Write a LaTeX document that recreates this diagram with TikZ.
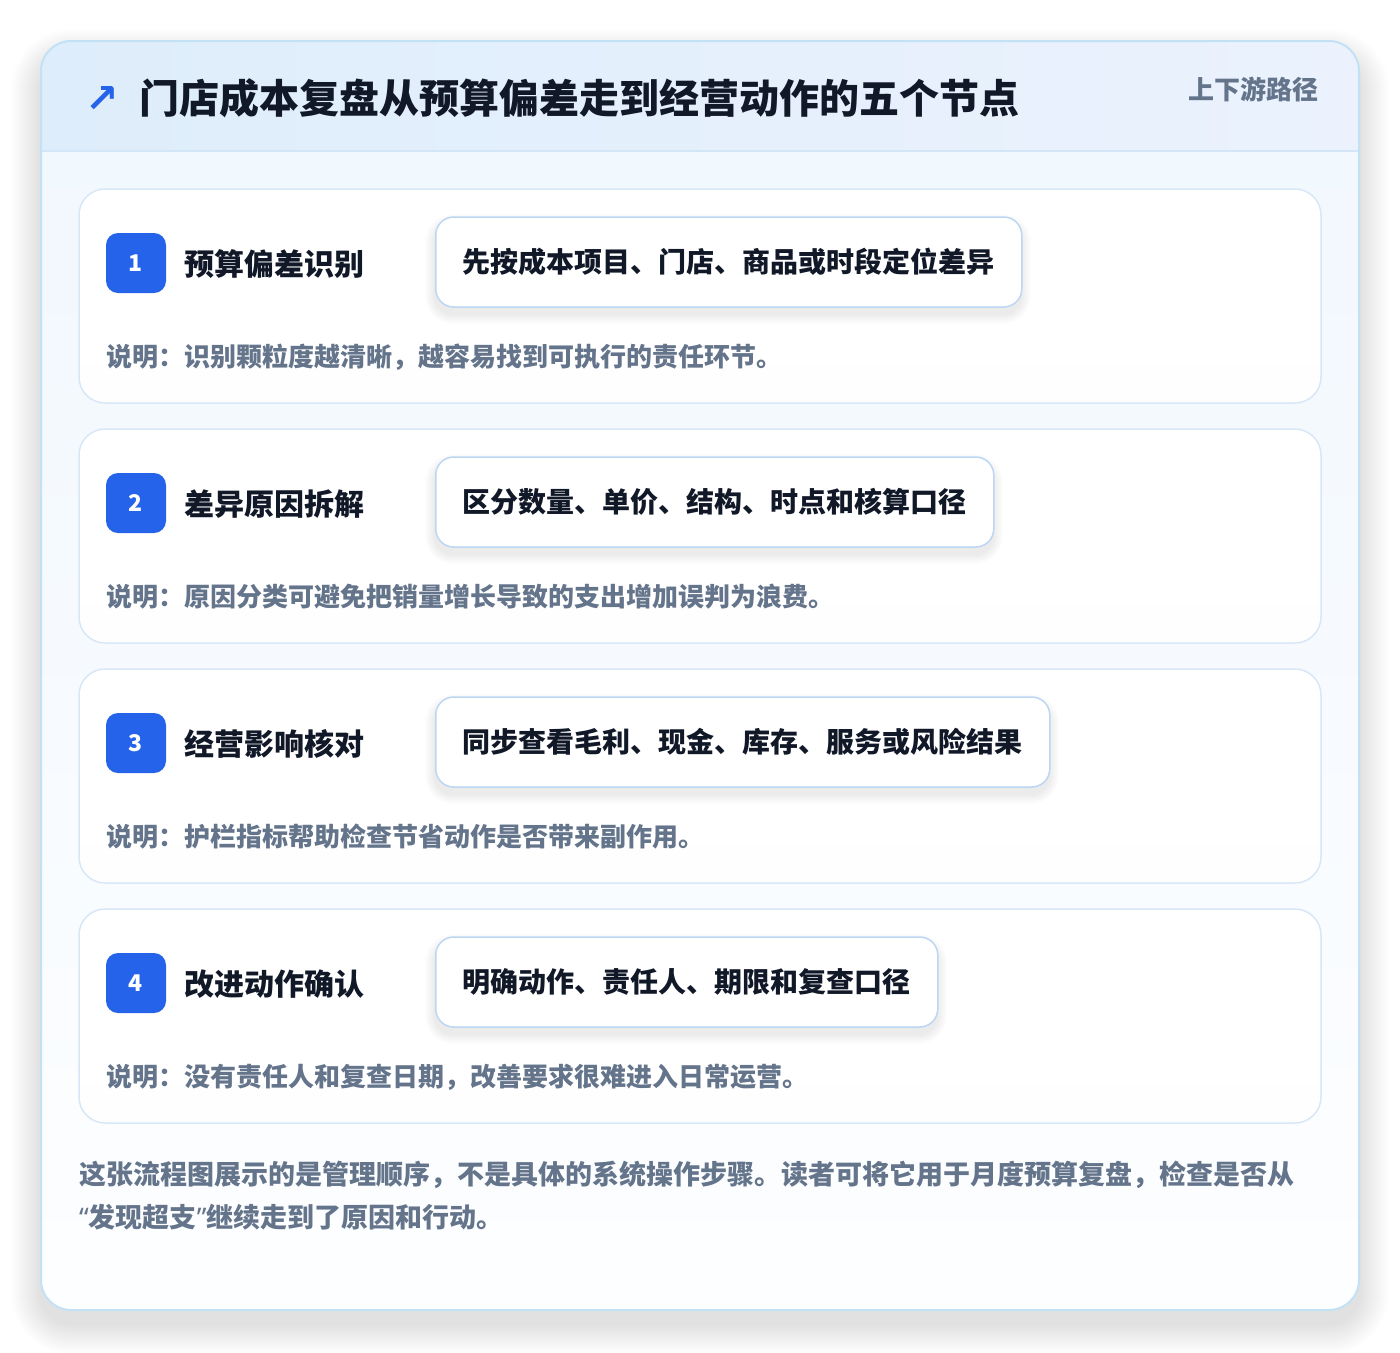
\documentclass[tikz,border=0pt]{standalone}
\usepackage{fontspec}
\setmainfont{Noto Sans CJK SC}
\newfontfamily\symfont{DejaVu Sans}
\newfontfamily\quotefont{Noto Sans}
\definecolor{ink}{HTML}{111827}
\definecolor{muted}{HTML}{64748B}
\definecolor{blueA}{HTML}{2563EB}
\definecolor{outerline}{HTML}{C3E1F5}
\definecolor{cardline}{HTML}{D8E7F7}
\definecolor{boxline}{HTML}{BCD6F3}
\definecolor{headL}{HTML}{DEEDFB}
\definecolor{headR}{HTML}{EBF2FD}
\definecolor{headsep}{HTML}{D3E6F8}
\definecolor{bodyTop}{HTML}{F0F7FE}
\definecolor{bodyBot}{HTML}{FDFEFF}
\tikzset{
  stepcard/.style={draw=cardline, line width=1.5pt, rounded corners=26pt, top color=white, bottom color=white!92!blue!3!white},
  badge/.style={fill=blueA, rounded corners=12pt, minimum width=60pt, minimum height=60pt, text=white, font=\bfseries\fontsize{23}{23}\selectfont, inner sep=0pt},
  steplabel/.style={anchor=west, font=\bfseries\fontsize{30}{30}\selectfont, text=ink, inner sep=0pt},
  actbox/.style={draw=boxline, line width=1.5pt, fill=white, rounded corners=18pt, minimum height=90pt, anchor=west, inner xsep=0pt, font=\bfseries\fontsize{28}{28}\selectfont, text=ink},
  desc/.style={anchor=west, font=\bfseries\fontsize{26}{26}\selectfont, text=muted, inner sep=0pt},
  foot/.style={anchor=west, font=\bfseries\fontsize{27}{27}\selectfont, text=muted, inner sep=0pt},
}
\begin{document}
\begin{tikzpicture}[x=1pt,y=-1pt]
\useasboundingbox (0,0) rectangle (1400,1352);
\fill[white] (0,0) rectangle (1400,1352);
% outer shadow (soft)
\foreach \k in {1,...,30}{
  \fill[black, opacity=0.0045, rounded corners=30+\k] (41-\k,41-\k+18) rectangle (1359+\k,1310+\k+14);
}
% outer card
\begin{scope}
  \clip[rounded corners=30pt] (41,41) rectangle (1359,1310);
  \shade[top color=bodyTop, bottom color=bodyBot] (41,41) rectangle (1359,1310);
  \shade[left color=headL, right color=headR] (41,41) rectangle (1359,151);
  \draw[headsep, line width=1.5pt] (41,151) -- (1359,151);
\end{scope}
\draw[outerline, line width=2pt, rounded corners=30pt] (41,41) rectangle (1359,1310);
% header
\node[anchor=center, text=blueA, font=\symfont\bfseries\fontsize{40}{40}\selectfont, inner sep=0pt] (icon) at (102,99) {↗};
\node[anchor=west, text=ink, font=\bfseries\fontsize{40}{40}\selectfont, inner sep=0pt] (title) at (139,98) {门店成本复盘从预算偏差走到经营动作的五个节点};
\node[anchor=east, text=muted, font=\bfseries\fontsize{26}{26}\selectfont, inner sep=0pt] (tag) at (1319,89) {上下游路径};
% steps
\foreach \i/\lab/\act/\w/\dsc in {
  1/预算偏差识别/先按成本项目、门店、商品或时段定位差异/586/说明：识别颗粒度越清晰，越容易找到可执行的责任环节。,
  2/差异原因拆解/区分数量、单价、结构、时点和核算口径/558/说明：原因分类可避免把销量增长导致的支出增加误判为浪费。,
  3/经营影响核对/同步查看毛利、现金、库存、服务或风险结果/614/说明：护栏指标帮助检查节省动作是否带来副作用。,
  4/改进动作确认/明确动作、责任人、期限和复查口径/502/说明：没有责任人和复查日期，改善要求很难进入日常运营。}{
  \pgfmathsetmacro{\top}{189+240*(\i-1)}
  \draw[stepcard] (79,\top) rectangle (1321,\top+214);
  \node[badge] (b\i) at (136,\top+74) {\i};
  \node[steplabel] (l\i) at (184,\top+75) {\lab};
  \foreach \k in {1,...,10}{
    \fill[black, opacity=0.006, rounded corners=18+\k] (435-\k,\top+28-\k+7) rectangle (435+\w+\k,\top+118+\k+7);
  }
  \node[actbox, minimum width=\w pt] (a\i) at (435,\top+73) {\act};
  \node[desc] (d\i) at (106,\top+168) {\dsc};
}
% footer
\node[foot] (f1) at (79,1175) {这张流程图展示的是管理顺序，不是具体的系统操作步骤。读者可将它用于月度预算复盘，检查是否从};
\node[foot] (f2) at (79,1217) {{\quotefont “}发现超支{\quotefont ”}继续走到了原因和行动。};
\end{tikzpicture}
\end{document}
